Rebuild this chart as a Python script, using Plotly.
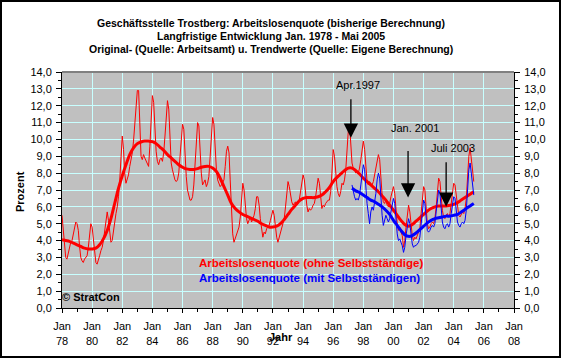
import pandas as pd
import plotly.graph_objects as go

# ---------------- data ----------------
red_raw = [
    5.5, 4.6, 3.7, 3.0, 2.9, 3.3, 3.6, 3.9, 4.0, 4.4, 4.9, 5.1,      # 1978
    5.0, 4.6, 3.7, 3.0, 2.8, 2.7, 2.9, 3.0, 3.1, 3.6, 4.3, 5.0,      # 1979
    4.8, 4.0, 3.2, 2.7, 2.6, 2.8, 3.1, 3.4, 3.6, 4.0, 4.7, 5.4,      # 1980
    5.7, 5.2, 4.4, 3.9, 4.0, 4.6, 5.1, 5.6, 6.0, 6.6, 7.6, 9.2,      # 1981
    10.2, 9.4, 8.0, 7.4, 7.6, 7.9, 8.4, 8.8, 9.2, 9.9, 11.0, 12.3,   # 1982
    12.9, 12.9, 11.0, 9.0, 8.8, 9.1, 8.9, 8.7, 8.6, 8.4, 9.6, 11.5,  # 1983
    12.6, 12.2, 10.2, 9.3, 8.7, 8.5, 8.8, 8.9, 8.7, 9.2, 10.2, 11.5, # 1984
    12.3, 11.8, 9.8, 8.6, 8.2, 7.9, 7.6, 7.5, 7.6, 8.0, 8.9, 9.9,    # 1985
    10.9, 10.6, 9.0, 7.8, 7.0, 6.6, 6.4, 6.4, 6.6, 7.3, 8.6, 10.4,   # 1986
    11.0, 10.8, 9.4, 8.0, 7.3, 7.5, 7.6, 7.2, 7.4, 7.8, 9.2, 10.6,   # 1987
    11.3, 10.9, 9.2, 8.2, 7.6, 7.4, 7.2, 7.3, 7.5, 7.6, 8.4, 9.3,    # 1988
    9.6, 9.2, 7.6, 5.6, 4.4, 3.9, 4.1, 4.3, 4.6, 4.8, 5.4, 6.6,      # 1989
    7.4, 7.0, 6.2, 5.3, 5.0, 5.2, 5.4, 5.1, 5.3, 5.5, 5.9, 6.6,      # 1990
    6.6, 6.1, 5.3, 4.6, 4.2, 4.5, 4.4, 4.7, 4.8, 4.9, 5.2, 5.6,      # 1991
    5.8, 5.5, 4.8, 4.2, 3.9, 4.2, 4.5, 4.8, 5.0, 5.3, 6.0, 7.0,      # 1992
    7.5, 7.2, 6.6, 6.3, 6.1, 6.2, 6.3, 6.1, 6.2, 6.4, 6.9, 7.5,      # 1993
    7.9, 7.6, 6.8, 6.1, 5.7, 5.9, 5.8, 5.9, 6.1, 6.2, 6.6, 7.3,      # 1994
    7.7, 7.4, 6.6, 5.9, 6.1, 6.0, 6.2, 6.3, 6.4, 6.4, 6.9, 8.0,      # 1995
    9.4, 9.0, 8.0, 7.2, 6.8, 6.6, 6.9, 7.4, 7.3, 7.6, 8.2, 9.2,      # 1996
    10.5, 10.9, 9.5, 8.6, 8.3, 8.2, 8.0, 8.1, 8.0, 8.3, 8.8, 9.5,    # 1997
    9.9, 9.4, 8.2, 7.5, 7.3, 7.5, 7.4, 7.3, 7.5, 7.9, 8.3, 8.8,      # 1998
    9.1, 8.8, 7.4, 6.7, 6.3, 6.2, 6.4, 6.1, 6.0, 6.2, 6.6, 6.9,      # 1999
    7.2, 6.8, 5.9, 5.0, 4.6, 4.8, 4.5, 4.3, 3.6, 4.0, 4.8, 5.7,      # 2000
    6.1, 5.7, 4.8, 4.3, 4.0, 4.2, 4.1, 4.3, 4.4, 4.7, 5.6, 6.6,      # 2001
    7.2, 7.0, 5.8, 5.0, 4.7, 4.8, 5.0, 5.1, 5.0, 5.3, 6.0, 7.0,      # 2002
    7.7, 7.5, 6.6, 5.8, 5.4, 5.3, 5.5, 5.6, 5.4, 5.6, 6.2, 6.9,      # 2003
    7.4, 7.3, 6.6, 5.8, 5.5, 5.4, 5.6, 5.7, 5.6, 5.9, 6.5, 7.8,      # 2004
    9.0, 9.5, 8.8, 7.9, 7.5,                                         # 2005 (Jan-May)
]

blue_raw = [
    7.3, 6.9, 6.6, 6.4, 6.5, 6.4, 6.7, 7.3, 8.0,                     # 1997 (Apr-Dec)
    8.5, 8.2, 6.9, 6.2, 5.6, 5.0, 5.7, 6.0, 5.8, 6.2, 6.8, 7.6,      # 1998
    8.0, 7.7, 6.3, 5.5, 4.9, 5.2, 5.5, 5.3, 5.1, 5.3, 5.7, 6.1,      # 1999
    6.5, 6.2, 5.2, 4.4, 4.0, 4.1, 3.9, 3.7, 3.3, 3.6, 4.3, 5.0,      # 2000
    5.3, 5.0, 4.3, 3.8, 3.6, 3.7, 3.7, 3.8, 3.9, 4.2, 4.9, 5.8,      # 2001
    6.4, 6.2, 5.2, 4.6, 4.5, 4.6, 4.8, 4.9, 4.8, 5.0, 5.7, 6.5,      # 2002
    7.0, 6.8, 5.8, 5.1, 4.8, 4.7, 4.9, 5.0, 4.8, 5.0, 5.6, 6.2,      # 2003
    6.6, 6.5, 5.8, 5.1, 4.9, 4.8, 5.0, 5.1, 5.0, 5.2, 5.8, 7.1,      # 2004
    8.2, 8.6, 7.9, 7.1, 6.7,                                         # 2005 (Jan-May)
]

# trend values: quarterly (Jan, Apr, Jul, Oct) plus the final month May 2005
red_trend = [
    4.05, 4.0, 3.95, 3.85,   # 1978
    3.75, 3.65, 3.55, 3.5,   # 1979
    3.5, 3.55, 3.75, 4.1,    # 1980
    4.6, 5.3, 6.2, 7.1,      # 1981
    7.85, 8.5, 9.1, 9.5,     # 1982
    9.75, 9.85, 9.9, 9.9,    # 1983
    9.87, 9.75, 9.55, 9.35,  # 1984
    9.1, 8.9, 8.7, 8.5,      # 1985
    8.35, 8.25, 8.22, 8.22,  # 1986
    8.27, 8.35, 8.4, 8.4,    # 1987
    8.3, 8.1, 7.7, 7.2,      # 1988
    6.7, 6.2, 5.9, 5.7,      # 1989
    5.55, 5.45, 5.35, 5.25,  # 1990
    5.15, 5.0, 4.9, 4.8,     # 1991
    4.8, 4.85, 5.0, 5.25,    # 1992
    5.55, 5.85, 6.1, 6.35,   # 1993
    6.5, 6.55, 6.55, 6.55,   # 1994
    6.6, 6.7, 6.9, 7.15,     # 1995
    7.5, 7.75, 7.95, 8.15,   # 1996
    8.3, 8.3, 8.15, 7.95,    # 1997
    7.7, 7.5, 7.3, 7.1,      # 1998
    6.9, 6.65, 6.4, 6.1,     # 1999
    5.8, 5.5, 5.2, 4.95,     # 2000
    4.85, 4.95, 5.15, 5.35,  # 2001
    5.55, 5.75, 5.9, 6.0,    # 2002
    6.05, 6.05, 6.05, 6.1,   # 2003
    6.15, 6.25, 6.4, 6.55,   # 2004
    6.7, 6.85, 6.9,          # 2005 (Jan, Apr, May)
]

blue_trend = [
    7.1, 6.95, 6.85,         # 1997 (Apr, Jul, Oct)
    6.7, 6.55, 6.4, 6.3,     # 1998
    6.15, 6.0, 5.8, 5.55,    # 1999
    5.2, 4.9, 4.6, 4.35,     # 2000
    4.25, 4.3, 4.45, 4.65,   # 2001
    4.85, 5.05, 5.2, 5.3,    # 2002
    5.35, 5.4, 5.45, 5.45,   # 2003
    5.5, 5.55, 5.7, 5.85,    # 2004
    6.0, 6.15, 6.2,          # 2005 (Jan, Apr, May)
]

red_months = pd.date_range("1978-01-01", periods=len(red_raw), freq="MS")
blue_months = pd.date_range("1997-04-01", periods=len(blue_raw), freq="MS")
red_trend_dates = list(pd.date_range("1978-01-01", "2005-04-01", freq="QS")) + [pd.Timestamp("2005-05-01")]
blue_trend_dates = list(pd.date_range("1997-04-01", "2005-04-01", freq="QS")) + [pd.Timestamp("2005-05-01")]

title_lines = [
    "Geschäftsstelle Trostberg: Arbeitslosenquote (bisherige Berechnung)",
    "Langfristige Entwicklung Jan. 1978 - Mai 2005",
    "Original- (Quelle: Arbeitsamt) u. Trendwerte (Quelle: Eigene Berechnung)",
]
legend_red = "Arbeitslosenquote (ohne Selbstständige)"
legend_blue = "Arbeitslosenquote (mit Selbstständigen)"

# ---------------- layout helpers ----------------
W, H = 561, 358
L, R, T, B = 62, 514, 72, 308
def px(xp):
    return (xp - L) / (R - L)
def py(yp):
    return (B - yp) / (B - T)

RED = "#FF0000"
BLUE = "#0000FF"
GRID = "#C8FFFF"
FONT = "Liberation Sans, Arial, sans-serif"

fig = go.Figure()
fig.add_trace(go.Scatter(x=red_months, y=red_raw, mode="lines",
                         line=dict(color=RED, width=1), hoverinfo="skip"))
fig.add_trace(go.Scatter(x=red_trend_dates, y=red_trend, mode="lines",
                         line=dict(color=RED, width=3, shape="spline"), hoverinfo="skip"))
fig.add_trace(go.Scatter(x=blue_months, y=blue_raw, mode="lines", yaxis="y2",
                         line=dict(color=BLUE, width=1), hoverinfo="skip"))
fig.add_trace(go.Scatter(x=blue_trend_dates, y=blue_trend, mode="lines", yaxis="y2",
                         line=dict(color=BLUE, width=3, shape="spline"), hoverinfo="skip"))

yaxis_common = dict(
    range=[0, 14], dtick=1, tick0=0, tickformat=".1f",
    ticks="outside", ticklen=5, tickcolor="black", tickwidth=1,
    showline=True, linecolor="black", linewidth=1,
    minor=dict(dtick=0.5, ticks="outside", ticklen=3, tickcolor="black", showgrid=False),
    tickfont=dict(size=11, color="black", family=FONT),
    ticklabelstandoff=2,
    zeroline=False, fixedrange=True,
)

fig.update_layout(
    width=W, height=H,
    margin=dict(l=L, r=W - R, t=T, b=H - B, pad=0),
    paper_bgcolor="white", plot_bgcolor="#C0C0C0",
    separators=",.",
    showlegend=False,
    font=dict(family=FONT, size=11, color="black"),
    xaxis=dict(
        type="date", range=["1978-01-01", "2008-01-01"],
        dtick="M24", tick0="1978-01-01", tickformat="%b<br>%y",
        ticks="outside", ticklen=4, tickcolor="black",
        showline=True, linecolor="black", linewidth=1,
        showgrid=True, gridcolor=GRID, gridwidth=1,
        minor=dict(dtick="M12", ticks="outside", ticklen=3, tickcolor="black", showgrid=False),
        tickfont=dict(size=11, color="black", family=FONT),
        ticklabelstandoff=4,
        zeroline=False, fixedrange=True,
    ),
    yaxis=dict(showgrid=True, gridcolor=GRID, gridwidth=1, side="left", **yaxis_common),
    yaxis2=dict(showgrid=False, overlaying="y", side="right", **yaxis_common),
)

# top border of plot area
fig.add_shape(type="line", xref="paper", yref="paper", x0=0, x1=1, y0=1, y1=1,
              line=dict(color="#808080", width=2))
# outer chart border
fig.add_shape(type="rect", xref="paper", yref="paper",
              x0=px(1), x1=px(W - 1), y0=py(H - 1), y1=py(1),
              line=dict(color="black", width=2))

ann = []
for i, line in enumerate(title_lines):
    ann.append(dict(text="<b>%s</b>" % line, xref="paper", yref="paper",
                    x=px(271), y=py(22.5 + 13.5 * i), xanchor="center", yanchor="middle",
                    showarrow=False, font=dict(size=10.5, color="black", family=FONT)))
ann.append(dict(text="<b>Prozent</b>", xref="paper", yref="paper", x=px(20), y=py(192),
                textangle=-90, xanchor="center", yanchor="middle", showarrow=False,
                font=dict(size=11, color="black", family=FONT)))
ann.append(dict(text="<b>Jahr</b>", xref="paper", yref="paper", x=px(281), y=py(337),
                xanchor="center", yanchor="middle", showarrow=False,
                font=dict(size=11, color="black", family=FONT)))
ann.append(dict(text="<b>© StratCon</b>", xref="paper", yref="paper", x=px(60), y=py(297),
                xanchor="left", yanchor="middle", showarrow=False,
                font=dict(size=11, color="black", family=FONT)))
ann.append(dict(text="<b>%s</b>" % legend_red, xref="paper", yref="paper", x=px(197), y=py(263),
                xanchor="left", yanchor="middle", showarrow=False,
                font=dict(size=11.5, color=RED, family=FONT)))
ann.append(dict(text="<b>%s</b>" % legend_blue, xref="paper", yref="paper", x=px(197), y=py(278),
                xanchor="left", yanchor="middle", showarrow=False,
                font=dict(size=11.5, color=BLUE, family=FONT)))

# event arrows: (label, tip date, tip value, tail offset px, label position px)
events = [
    ("Apr.1997", "1997-03-05", 10.1, -40, (358, 85)),
    ("Jan. 2001", "2000-12-20", 6.55, -48, (415, 128)),
    ("Juli 2003", "2003-07-01", 6.0, -46, (453, 148)),
]
for label, d, v, off, (lx, ly) in events:
    ann.append(dict(text="", x=d, y=v, xref="x", yref="y", showarrow=True,
                    ax=0, ay=off, arrowhead=2, arrowsize=2.2, arrowwidth=1.3,
                    arrowcolor="black", standoff=0))
    ann.append(dict(text=label, xref="paper", yref="paper", x=px(lx), y=py(ly),
                    xanchor="center", yanchor="middle", showarrow=False,
                    font=dict(size=11, color="black", family=FONT)))

fig.update_layout(annotations=ann)
fig.write_html("out.html", config={"displayModeBar": False},
               post_script="document.body.style.margin='0px';document.body.style.overflow='hidden';")
